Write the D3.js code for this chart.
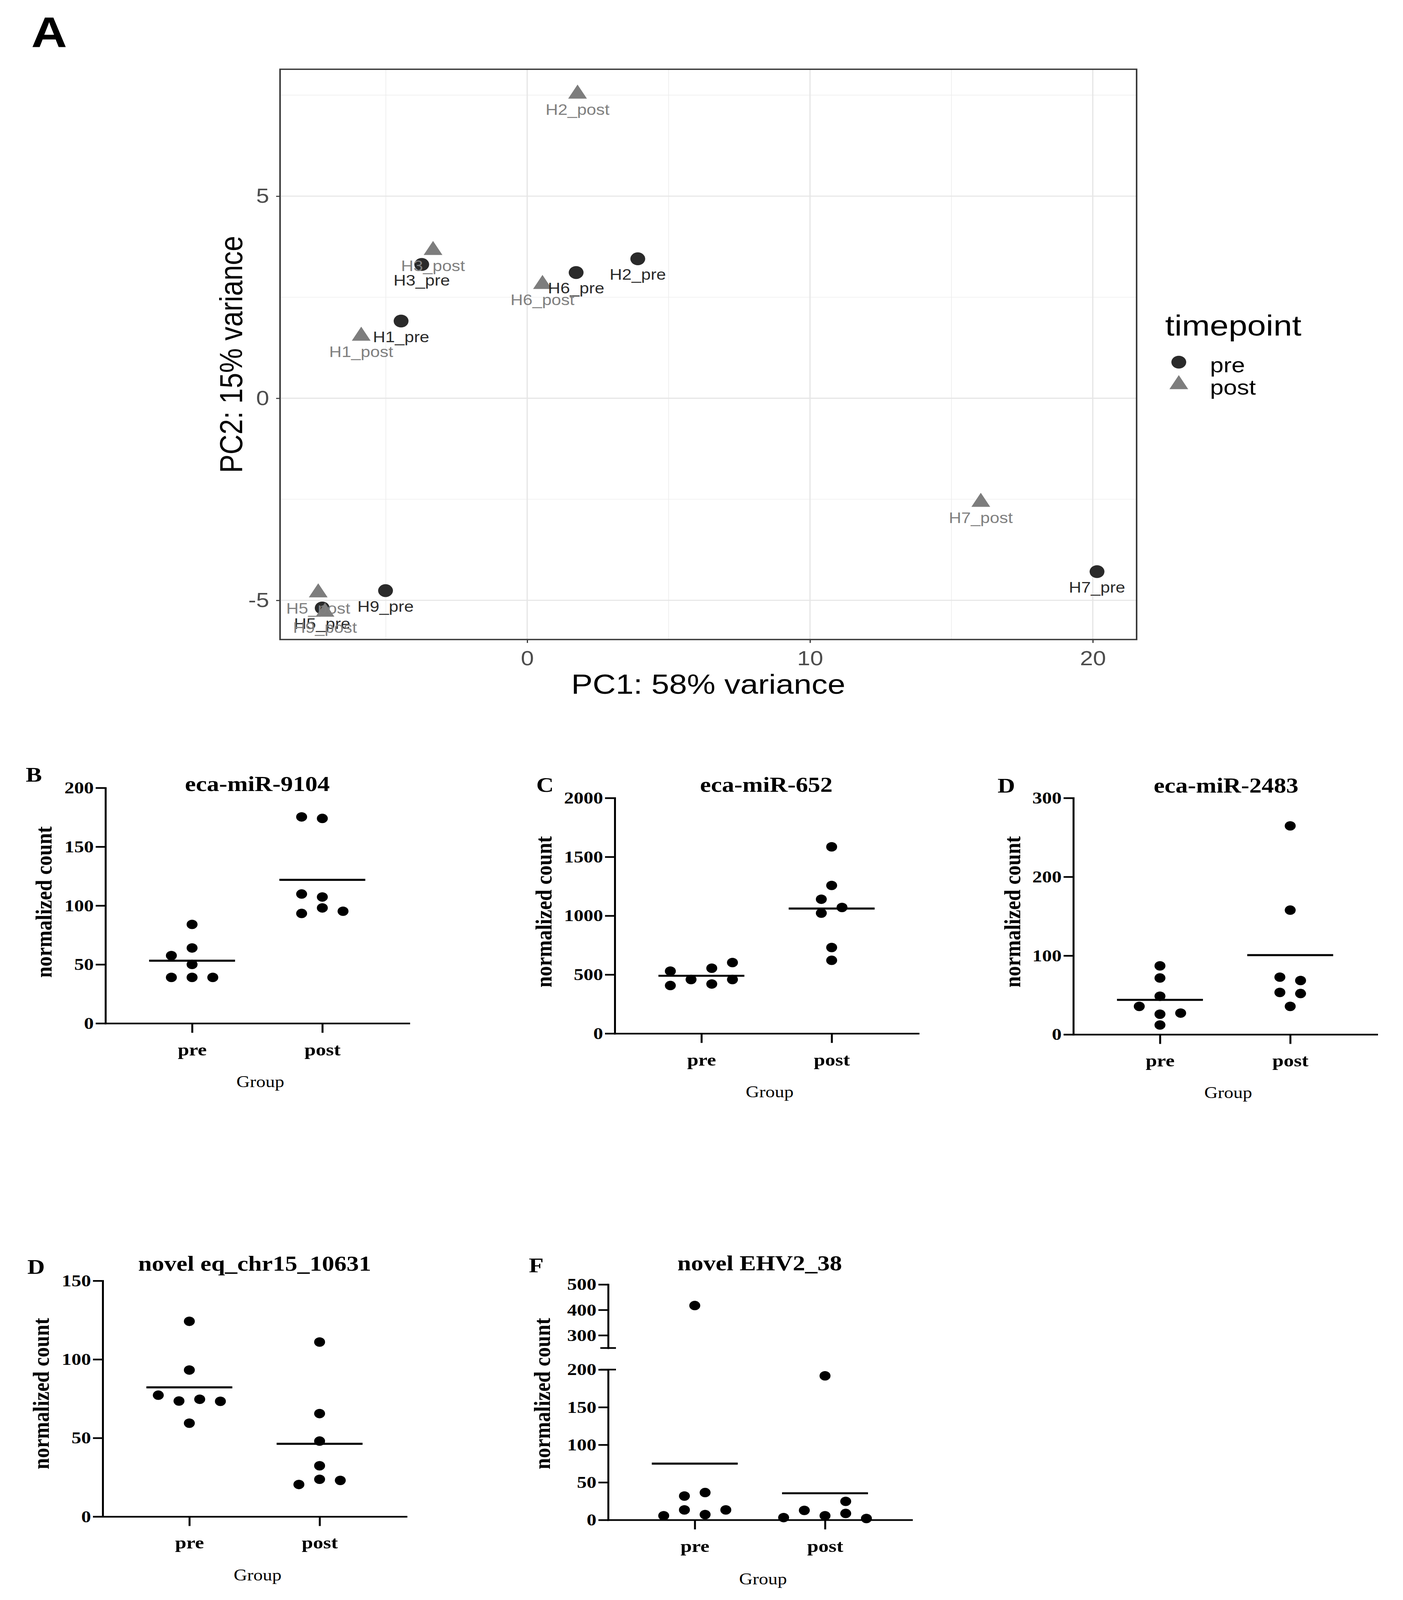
<!DOCTYPE html>
<html>
<head>
<meta charset="utf-8">
<script src="https://cdn.jsdelivr.net/npm/d3@7"></script>
<style>
  html, body { margin: 0; padding: 0; background: #ffffff; overflow: hidden; }
  svg { display: block; }
</style>
</head>
<body>
<svg id="fig" width="3592" height="4736" xmlns="http://www.w3.org/2000/svg"></svg>
<script>
// ================= DATA =================
// Panel A – PCA
const samples    = ["H1_pre","H1_post","H2_pre","H2_post","H3_pre","H3_post","H5_pre","H5_post","H6_pre","H6_post","H7_pre","H7_post","H9_pre","H9_post"];
const timepoints = ["pre","post","pre","post","pre","post","pre","post","pre","post","pre","post","pre","post"];
const pc1 = [-4.46, -5.87, 3.91, 1.78, -3.73, -3.33, -7.25, -7.39, 1.73, 0.54, 20.15, 16.04, -5.01, -7.15];
const pc2 = [ 1.91,  1.54, 3.45, 7.53,  3.31,  3.66, -5.19, -4.81, 3.11, 2.82, -4.29, -2.57, -4.76, -5.29];
const pcTicksX = [0, 10, 20];
const pcTicksY = [-5, 0, 5];
const timepointLevels = ["pre", "post"];

// Panels B–F – normalized counts
const groups = ["pre", "post"];

const mir9104Pre      = [84, 64, 57.5, 50, 39, 39, 39];
const mir9104PreSlot  = [0, 0, -1, 0, -1, 0, 1];
const mir9104Post     = [175.3, 174, 109.8, 107.3, 98, 93.3, 95.2];
const mir9104PostSlot = [-1, 0, -1, 0, 0, -1, 1];
const mir9104Ticks    = [0, 50, 100, 150, 200];

const mir652Pre       = [529, 407, 458, 554, 420, 602, 458];
const mir652PreSlot   = [-1.5, -1.5, -0.5, 0.5, 0.5, 1.5, 1.5];
const mir652Post      = [1585, 1257, 1140, 1070, 1022, 730, 621];
const mir652PostSlot  = [0, 0, -0.5, 0.5, -0.5, 0, 0];
const mir652Ticks     = [0, 500, 1000, 1500, 2000];

const mir2483Pre      = [87, 71.6, 48.5, 35.6, 25.7, 27.1, 12];
const mir2483PreSlot  = [0, 0, 0, -1, 0, 1, 0];
const mir2483Post     = [264.6, 157.7, 72.7, 68.4, 53.3, 51.9, 35.6];
const mir2483PostSlot = [0, 0, -0.5, 0.5, -0.5, 0.5, 0];
const mir2483Ticks    = [0, 100, 200, 300];

const chr15Pre        = [124.2, 93.2, 77.2, 73.5, 74.6, 73.3, 59.4];
const chr15PreSlot    = [0, 0, -1.5, -0.5, 0.5, 1.5, 0];
const chr15Post       = [111, 65.5, 48, 32.3, 23.7, 23, 20.4];
const chr15PostSlot   = [0, 0, 0, 0, 0, 1, -1];
const chr15Ticks      = [0, 50, 100, 150];

const ehvPre          = [417, 31.8, 36.4, 13.3, 13.3, 5.6, 7.1];
const ehvPreSlot      = [0, -0.5, 0.5, -0.5, 1.5, -1.5, 0.5];
const ehvPost         = [191.7, 24.7, 12.7, 8.6, 5.6, 3.1, 1.9];
const ehvPostSlot     = [0, 1, -1, 1, 0, -2, 2];
const ehvTicksLow     = [0, 50, 100, 150, 200];
const ehvTicksHigh    = [300, 400, 500];

// ================= DRAWING =================
const W = 3592, H = 4736;
const svg = d3.select("#fig");
const vw = window.innerWidth || W;
const vh = window.innerHeight || H;
svg.attr("width", vw).attr("height", vh)
   .attr("viewBox", `0 0 ${W} ${H}`)
   .attr("preserveAspectRatio", "none");
svg.append("rect").attr("width", W).attr("height", H).attr("fill", "#ffffff");

const SANS = "'Liberation Sans', Arial, Helvetica, sans-serif";
const SERIF = "'Liberation Serif', 'Times New Roman', serif";
const plain = d => String(d);

// ---------- Panel A ----------
const gA = svg.append("g");
const xA = d3.scaleLinear().domain([-8.74, 21.55]).range([717, 2910]);
const yA = d3.scaleLinear().domain([-5.97, 8.14]).range([1893, 205]);
const colorA = d3.scaleOrdinal().domain(timepointLevels).range(["#2a2a2a", "#7d7d7d"]);
const labelColorA = d3.scaleOrdinal().domain(timepointLevels).range(["#2a2a2a", "#808080"]);

gA.append("text").attr("x", 80).attr("y", 139)
  .attr("font-family", SANS).attr("font-weight", "bold").attr("font-size", 127)
  .attr("fill", "#000").text("A");

const [xa0, xa1] = xA.domain();
const [ya0, ya1] = yA.domain();
const xStep = pcTicksX[1] - pcTicksX[0];
const yStep = pcTicksY[1] - pcTicksY[0];
const minorX = d3.range(pcTicksX[0] - xStep / 2 - xStep * 2, xa1, xStep).filter(v => v > xa0 && v < xa1);
const minorY = d3.range(pcTicksY[0] - yStep / 2 - yStep * 2, ya1, yStep).filter(v => v > ya0 && v < ya1);

const grid = gA.append("g");
grid.selectAll("line.mx").data(minorX).join("line")
  .attr("x1", d => xA(d)).attr("x2", d => xA(d)).attr("y1", yA.range()[0]).attr("y2", yA.range()[1])
  .attr("stroke", "#ececec").attr("stroke-width", 1.6);
grid.selectAll("line.my").data(minorY).join("line")
  .attr("y1", d => yA(d)).attr("y2", d => yA(d)).attr("x1", xA.range()[0]).attr("x2", xA.range()[1])
  .attr("stroke", "#ececec").attr("stroke-width", 1.6);
grid.selectAll("line.Mx").data(pcTicksX).join("line")
  .attr("x1", d => xA(d)).attr("x2", d => xA(d)).attr("y1", yA.range()[0]).attr("y2", yA.range()[1])
  .attr("stroke", "#e6e6e6").attr("stroke-width", 3.2);
grid.selectAll("line.My").data(pcTicksY).join("line")
  .attr("y1", d => yA(d)).attr("y2", d => yA(d)).attr("x1", xA.range()[0]).attr("x2", xA.range()[1])
  .attr("stroke", "#e6e6e6").attr("stroke-width", 3.2);

// axes
const axAB = gA.append("g").attr("transform", `translate(0,${yA.range()[0]})`)
  .call(d3.axisBottom(xA).tickValues(pcTicksX).tickSize(10).tickPadding(24).tickFormat(plain));
const axAL = gA.append("g").attr("transform", `translate(${xA.range()[0]},0)`)
  .call(d3.axisLeft(yA).tickValues(pcTicksY).tickSize(10).tickPadding(18).tickFormat(plain));
[axAB, axAL].forEach(ax => {
  ax.select(".domain").remove();
  ax.selectAll(".tick line").attr("stroke", "#333").attr("stroke-width", 3);
  ax.selectAll(".tick text").attr("font-family", SANS).attr("font-size", 60).attr("fill", "#4d4d4d");
});

// border
gA.append("rect")
  .attr("x", xA.range()[0]).attr("y", yA.range()[1])
  .attr("width", xA.range()[1] - xA.range()[0]).attr("height", yA.range()[0] - yA.range()[1])
  .attr("fill", "none").attr("stroke", "#3a3a3a").attr("stroke-width", 4);

// points
const idx = d3.range(samples.length);
const symCircle = d3.symbol(d3.symbolCircle, Math.PI * 19 * 19)();
const symTri = d3.symbol(d3.symbolTriangle, 1000)();
gA.append("g").selectAll("path").data(idx).join("path")
  .attr("d", i => timepoints[i] === "pre" ? symCircle : symTri)
  .attr("transform", i => `translate(${xA(pc1[i])},${yA(pc2[i])})`)
  .attr("fill", i => colorA(timepoints[i]));

// point labels
gA.append("g").selectAll("text").data(idx).join("text")
  .attr("x", i => xA(pc1[i])).attr("y", i => yA(pc2[i]) + 62)
  .attr("text-anchor", "middle")
  .attr("font-family", SANS).attr("font-size", 44)
  .attr("fill", i => labelColorA(timepoints[i]))
  .text(i => samples[i]);

// axis titles
gA.append("text").attr("x", (xA.range()[0] + xA.range()[1]) / 2).attr("y", 2053)
  .attr("text-anchor", "middle").attr("font-family", SANS).attr("font-size", 82).attr("fill", "#000")
  .text("PC1: 58% variance");
gA.append("text").attr("transform", `translate(620,${(yA.range()[0] + yA.range()[1]) / 2}) rotate(-90)`)
  .attr("text-anchor", "middle").attr("font-family", SANS).attr("font-size", 82).attr("fill", "#000")
  .text("PC2: 15% variance");

// legend
const leg = gA.append("g");
leg.append("text").attr("x", 2983).attr("y", 993)
  .attr("font-family", SANS).attr("font-size", 86).attr("fill", "#000").text("timepoint");
const legY = d3.scalePoint().domain(timepointLevels).range([1072, 1138]);
leg.selectAll("path").data(timepointLevels).join("path")
  .attr("d", d => d === "pre" ? symCircle : symTri)
  .attr("transform", d => `translate(3018,${legY(d)})`)
  .attr("fill", d => colorA(d));
leg.selectAll("text.lab").data(timepointLevels).join("text").attr("class", "lab")
  .attr("x", 3098).attr("y", d => legY(d) + 30)
  .attr("font-family", SANS).attr("font-size", 62).attr("fill", "#000").text(d => d);

// ---------- Panels B–F ----------
function dotPanel(cfg) {
  const g = svg.append("g");
  const x = d3.scalePoint().domain(groups).range([cfg.axisX, cfg.axisX + 777]).padding(0.665);
  const slot = d3.scaleLinear().domain([-1, 1]).range([-53, 53]);
  const yPos = cfg.yFn;

  // panel letter + title
  g.append("text").attr("x", cfg.letterX).attr("y", cfg.letterY)
    .attr("font-family", SERIF).attr("font-weight", "bold").attr("font-size", 62).attr("fill", "#000")
    .text(cfg.letter);
  g.append("text").attr("x", cfg.titleX).attr("y", cfg.titleY).attr("text-anchor", "middle")
    .attr("font-family", SERIF).attr("font-weight", "bold").attr("font-size", 63).attr("fill", "#000")
    .text(cfg.title);

  // y axis (one or two segments)
  cfg.yAxes.forEach(a => {
    const ax = g.append("g").attr("transform", `translate(${cfg.axisX},0)`)
      .call(d3.axisLeft(a.scale).tickValues(a.ticks).tickSize(25).tickSizeOuter(0).tickPadding(5).tickFormat(plain));
    ax.select(".domain").attr("stroke", "#000").attr("stroke-width", 5).attr("stroke-linecap", "square");
    ax.selectAll(".tick line").attr("stroke", "#000").attr("stroke-width", 5);
    ax.selectAll(".tick text").attr("font-family", SERIF).attr("font-weight", "bold")
      .attr("font-size", 50).attr("fill", "#000");
  });
  (cfg.caps || []).forEach(c => {
    g.append("line").attr("x1", cfg.axisX - 20).attr("x2", cfg.axisX + 20)
      .attr("y1", c).attr("y2", c).attr("stroke", "#000").attr("stroke-width", 5);
  });

  // x axis
  const axB = g.append("g").attr("transform", `translate(0,${cfg.y0})`)
    .call(d3.axisBottom(x).tickSize(28).tickSizeOuter(0).tickPadding(30));
  axB.select(".domain").attr("stroke", "#000").attr("stroke-width", 5).attr("stroke-linecap", "square");
  axB.selectAll(".tick line").attr("stroke", "#000").attr("stroke-width", 5);
  axB.selectAll(".tick text").attr("font-family", SERIF).attr("font-weight", "bold")
    .attr("font-size", 52).attr("fill", "#000");

  // axis titles
  g.append("text").attr("transform", `translate(${cfg.ylabX},${cfg.ylabY}) rotate(-90)`)
    .attr("text-anchor", "middle").attr("font-family", SERIF).attr("font-weight", "bold")
    .attr("font-size", 60).attr("fill", "#000").text("normalized count");
  g.append("text").attr("x", x.range()[0] + (x.range()[1] - x.range()[0]) / 2 + 8).attr("y", cfg.groupY)
    .attr("text-anchor", "middle").attr("font-family", SERIF)
    .attr("font-size", 48).attr("fill", "#000").text("Group");

  // dots + mean lines
  cfg.series.forEach(s => {
    const cx = x(s.group);
    g.append("g").selectAll("circle").data(s.values).join("circle")
      .attr("cx", (v, i) => cx + slot(s.slots[i]))
      .attr("cy", v => yPos(v))
      .attr("r", 14).attr("fill", "#000");
    const m = d3.mean(s.values);
    g.append("line").attr("x1", cx - 110).attr("x2", cx + 110)
      .attr("y1", yPos(m)).attr("y2", yPos(m))
      .attr("stroke", "#000").attr("stroke-width", 6);
  });
}

function simplePanel(o) {
  const y = d3.scaleLinear().domain([0, o.ticks[o.ticks.length - 1]]).range([o.y0, o.yTop]);
  dotPanel({
    letter: o.letter, title: o.title, axisX: o.axisX, y0: o.y0,
    letterX: o.letterX, letterY: o.letterY, titleX: o.titleX, titleY: o.titleY,
    ylabX: o.ylabX, ylabY: o.ylabY, groupY: o.groupY,
    yFn: y, yAxes: [{ scale: y, ticks: o.ticks }],
    series: [
      { group: "pre", values: o.pre, slots: o.preSlot },
      { group: "post", values: o.post, slots: o.postSlot }
    ]
  });
}

simplePanel({ letter: "B", title: "eca-miR-9104", axisX: 270, y0: 3029, yTop: 2332,
  letterX: 66, letterY: 2314, titleX: 659, titleY: 2341, ylabX: 132, ylabY: 2670, groupY: 3218,
  ticks: mir9104Ticks, pre: mir9104Pre, preSlot: mir9104PreSlot, post: mir9104Post, postSlot: mir9104PostSlot });

simplePanel({ letter: "C", title: "eca-miR-652", axisX: 1574, y0: 3059, yTop: 2362,
  letterX: 1373, letterY: 2344, titleX: 1962, titleY: 2344, ylabX: 1412, ylabY: 2699, groupY: 3248,
  ticks: mir652Ticks, pre: mir652Pre, preSlot: mir652PreSlot, post: mir652Post, postSlot: mir652PostSlot });

simplePanel({ letter: "D", title: "eca-miR-2483", axisX: 2748, y0: 3062, yTop: 2362,
  letterX: 2554, letterY: 2346, titleX: 3139, titleY: 2346, ylabX: 2612, ylabY: 2699, groupY: 3250,
  ticks: mir2483Ticks, pre: mir2483Pre, preSlot: mir2483PreSlot, post: mir2483Post, postSlot: mir2483PostSlot });

simplePanel({ letter: "D", title: "novel eq_chr15_10631", axisX: 263, y0: 4489, yTop: 3791,
  letterX: 70, letterY: 3770, titleX: 652, titleY: 3761, ylabX: 125, ylabY: 4125, groupY: 4678,
  ticks: chr15Ticks, pre: chr15Pre, preSlot: chr15PreSlot, post: chr15Post, postSlot: chr15PostSlot });

// Panel F – broken y axis
(function () {
  const yLow = d3.scaleLinear().domain([0, ehvTicksLow[ehvTicksLow.length - 1]]).range([4499, 4054]);
  const yHigh = d3.scaleLinear().domain([250, ehvTicksHigh[ehvTicksHigh.length - 1]]).range([3990, 3802]);
  const split = (yLow.domain()[1] + yHigh.domain()[0]) / 2;
  const yFn = v => v > split ? yHigh(v) : yLow(v);
  dotPanel({
    letter: "F", title: "novel EHV2_38", axisX: 1557, y0: 4499,
    letterX: 1354, letterY: 3766, titleX: 1945, titleY: 3760,
    ylabX: 1408, ylabY: 4125, groupY: 4690,
    yFn: yFn,
    yAxes: [{ scale: yLow, ticks: ehvTicksLow }, { scale: yHigh, ticks: ehvTicksHigh }],
    caps: [yLow(yLow.domain()[1]), yHigh(yHigh.domain()[0])],
    series: [
      { group: "pre", values: ehvPre, slots: ehvPreSlot },
      { group: "post", values: ehvPost, slots: ehvPostSlot }
    ]
  });
})();
</script>
</body>
</html>
